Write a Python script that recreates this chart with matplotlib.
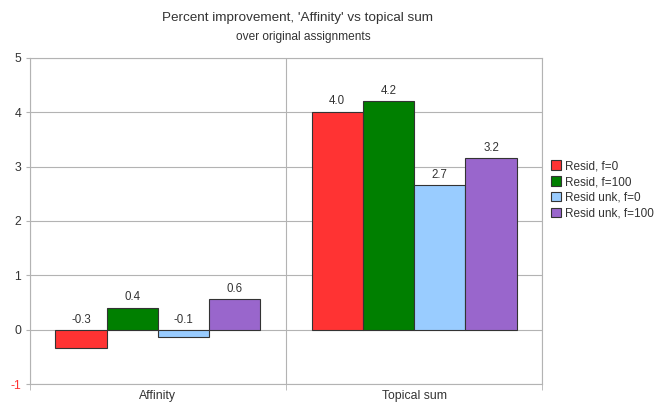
import numpy as np
import matplotlib.pyplot as plt

plt.rcParams['font.family'] = ['Liberation Sans', 'DejaVu Sans']

categories = ['Affinity', 'Topical sum']
series = ['Resid, f=0', 'Resid, f=100', 'Resid unk, f=0', 'Resid unk, f=100']
values = [
    [-0.33, 4.01],   # Resid, f=0
    [0.41, 4.21],    # Resid, f=100
    [-0.13, 2.66],   # Resid unk, f=0
    [0.56, 3.16],    # Resid unk, f=100
]
colors = ['#ff3333', '#007f00', '#99ccff', '#9966cc']
yticks = [-1, 0, 1, 2, 3, 4, 5]

fig = plt.figure(figsize=(6.55, 4.04), dpi=100)
ax = fig.add_axes([0.0453, 0.0488, 0.7826, 0.8084])

x = np.arange(len(categories))
w = 0.2
for i, (name, vals) in enumerate(zip(series, values)):
    pos = x - 0.3 + i * w
    ax.bar(pos, vals, width=w, color=colors[i], edgecolor='#333333',
           linewidth=0.8, label=name, zorder=3)
    for p, v in zip(pos, vals):
        ax.annotate(f'{v:.1f}', (p, max(v, 0)), xytext=(0, 3),
                    textcoords='offset points', ha='center', va='bottom',
                    fontsize=8.3, color='#333333')

ax.set_xlim(-0.5, len(categories) - 0.5)
ax.set_ylim(-1, 5)
ax.set_yticks(yticks)
ax.set_yticklabels([str(t) for t in yticks], fontsize=8.8)
for lbl, t in zip(ax.get_yticklabels(), yticks):
    lbl.set_color('#ff3333' if t < 0 else '#333333')

ax.set_xticks(x)
ax.set_xticklabels(categories, fontsize=8.8, color='#333333')
ax.tick_params(axis='x', length=0, pad=4)
ax.set_xticks(np.arange(-0.5, len(categories)), minor=True)
ax.tick_params(axis='x', which='minor', length=4, color='#b3b3b3')
ax.tick_params(axis='y', length=3, color='#b3b3b3', pad=3)

ax.grid(axis='y', color='#b3b3b3', linewidth=0.8, zorder=0)
ax.grid(axis='x', which='minor', color='#b3b3b3', linewidth=0.8, zorder=0)
for s in ax.spines.values():
    s.set_color('#b3b3b3')
    s.set_linewidth(0.8)

fig.text(0.454, 0.956, "Percent improvement, 'Affinity' vs topical sum",
         ha='center', va='center', fontsize=9.7, color='#333333')
fig.text(0.463, 0.908, 'over original assignments',
         ha='center', va='center', fontsize=8.6, color='#333333')

leg = ax.legend(loc='center left', bbox_to_anchor=(1.0, 0.595), frameon=False,
                fontsize=8.5, handlelength=0.85, handleheight=0.85,
                handletextpad=0.4, labelspacing=0.32, borderaxespad=0.3)
for t in leg.get_texts():
    t.set_color('#333333')

fig.savefig('out.png', dpi=100)
